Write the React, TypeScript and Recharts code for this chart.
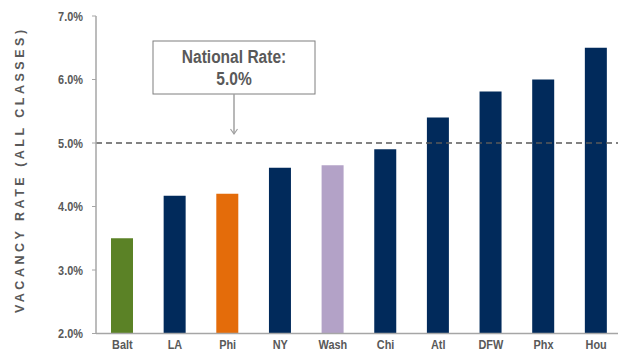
import React from 'react';
import { BarChart, Bar, XAxis, YAxis, ReferenceLine, Cell } from 'recharts';

// Metro areas, ordered from lowest to highest vacancy
const cities = ['Balt', 'LA', 'Phi', 'NY', 'Wash', 'Chi', 'Atl', 'DFW', 'Phx', 'Hou'];
// Vacancy rate, all classes (%)
const vacancyRates = [3.5, 4.17, 4.2, 4.61, 4.65, 4.9, 5.4, 5.81, 6.0, 6.5];
const barColors = [
  '#5b8226', '#012a5b', '#e46c0a', '#012a5b', '#b3a2c7',
  '#012a5b', '#012a5b', '#012a5b', '#012a5b', '#012a5b',
];
const yTicks = [2, 3, 4, 5, 6, 7];
const nationalRate = 5.0;

const data = cities.map((city, i) => ({ city, rate: vacancyRates[i] }));

const FONT = '"Liberation Sans", Arial, sans-serif';
const TEXT = '#595959';
const AXIS = '#a6a6a6';
// horizontal squeeze giving the condensed look of the labels
const NARROW = 0.84;

const XTick = (props: any) => {
  const { x, y, payload } = props;
  return (
    <g transform={`translate(${x},${y})`}>
      <text transform={`scale(${NARROW},1)`} textAnchor="middle" dy="0.66em" fontFamily={FONT} fontWeight="bold" fontSize={13} fill={TEXT}>
        {payload.value}
      </text>
    </g>
  );
};

const YTick = (props: any) => {
  const { x, y, payload } = props;
  return (
    <g transform={`translate(${x},${y})`}>
      <text transform={`scale(${NARROW},1)`} textAnchor="end" dy="0.36em" fontFamily={FONT} fontWeight="bold" fontSize={13} fill={TEXT}>
        {`${Number(payload.value).toFixed(1)}%`}
      </text>
    </g>
  );
};

const Callout = (props: any) => {
  const vb = props.viewBox || {};
  const x0 = vb.x ?? 0;
  const y = vb.y ?? 0;
  const cx = x0 + 138;
  const boxW = 162;
  const top = y - 102;
  const bottom = y - 49;
  const tip = y - 9;
  return (
    <g>
      <rect x={cx - boxW / 2} y={top} width={boxW} height={bottom - top} fill="#fff" stroke="#7f7f7f" strokeWidth={1} />
      <g transform={`translate(${cx},0) scale(${NARROW},1)`}>
        <text x={0} y={top + 22} textAnchor="middle" fontFamily={FONT} fontWeight="bold" fontSize={18.5} fill={TEXT}>
          National Rate:
        </text>
        <text x={0} y={top + 44} textAnchor="middle" fontFamily={FONT} fontWeight="bold" fontSize={18.5} fill={TEXT}>
          {nationalRate.toFixed(1)}%
        </text>
      </g>
      <line x1={cx} y1={bottom} x2={cx} y2={tip} stroke="#a0a0a0" strokeWidth={1.5} />
      <polyline points={`${cx - 3.5},${tip - 5} ${cx},${tip} ${cx + 3.5},${tip - 5}`} fill="none" stroke="#a0a0a0" strokeWidth={1.2} />
    </g>
  );
};

const YTitle = (props: any) => {
  const vb = props.viewBox || {};
  const cy = (vb.y ?? 16) + (vb.height ?? 317) / 2 - 5;
  const cx = 20;
  return (
    <text
      x={cx}
      y={cy}
      transform={`rotate(-90 ${cx} ${cy})`}
      textAnchor="middle"
      dominantBaseline="central"
      fontFamily={FONT}
      fontWeight="bold"
      fontSize={12.5}
      letterSpacing={3.5}
      fill={TEXT}
    >
      VACANCY RATE (ALL CLASSES)
    </text>
  );
};

export default function App() {
  return (
    <div style={{ position: 'absolute', left: 0, top: 0, width: 618, height: 352, overflow: 'hidden', background: '#fff' }}>
      <BarChart
        width={630}
        height={352}
        data={data}
        margin={{ top: 16, right: 7.5, bottom: 0, left: 0 }}
        barSize={22}
      >
        <XAxis
          dataKey="city"
          interval={0}
          height={18.5}
          axisLine={{ stroke: AXIS, strokeWidth: 1.5 }}
          tickLine={false}
          tickSize={6}
          tickMargin={1}
          tick={<XTick />}
        />
        <YAxis
          domain={[2, 7]}
          ticks={yTicks}
          width={96}
          allowDataOverflow
          axisLine={{ stroke: AXIS, strokeWidth: 1.5 }}
          tickLine={{ stroke: AXIS }}
          tickSize={4}
          tickMargin={9}
          tick={<YTick />}
          label={<YTitle />}
        />
        <Bar dataKey="rate" isAnimationActive={false}>
          {data.map((d, i) => (
            <Cell key={d.city} fill={barColors[i]} />
          ))}
        </Bar>
        <ReferenceLine
          y={nationalRate}
          stroke="#595959"
          strokeWidth={1.5}
          strokeDasharray="6 4"
          label={<Callout />}
        />
      </BarChart>
    </div>
  );
}
